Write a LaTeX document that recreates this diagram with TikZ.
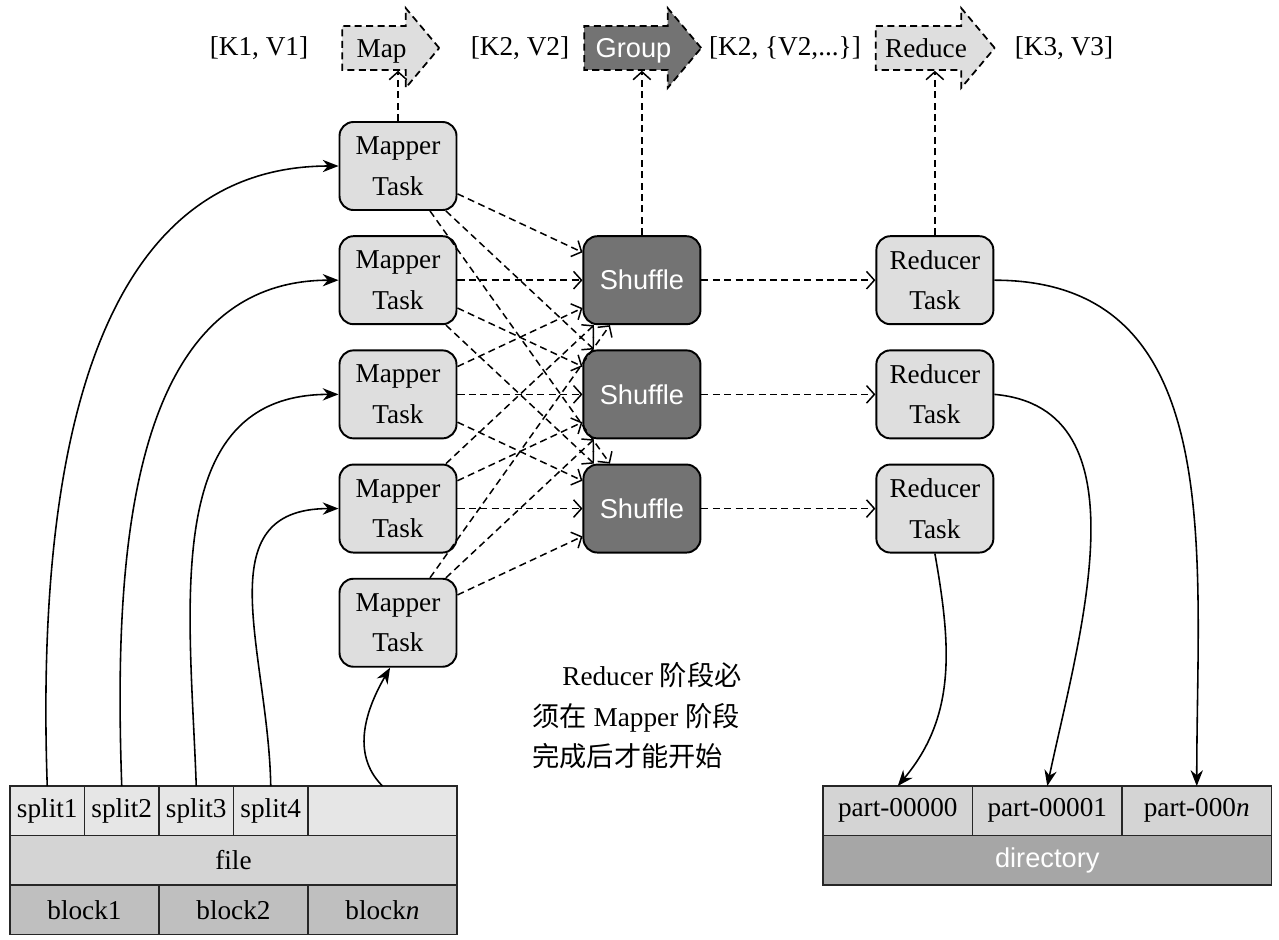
\documentclass[tikz,border=0pt]{standalone}
\usepackage{fontspec}
\setmainfont{Liberation Serif}
\newfontfamily\sansfont{Liberation Sans}
\newfontfamily\cjkfont{Noto Sans CJK SC}
\usetikzlibrary{shapes.arrows, arrows.meta, positioning}
\definecolor{taskGray}{HTML}{DEDEDE}
\definecolor{darkGray}{HTML}{737373}
\definecolor{splitGray}{HTML}{E6E6E6}
\definecolor{fileGray}{HTML}{D4D4D4}
\definecolor{blockGray}{HTML}{BFBFBF}
\definecolor{dirGray}{HTML}{A6A6A6}
\tikzstyle{taskNode} = [rectangle, minimum width=2.34cm, minimum height=1.76cm, align=center, rounded corners=0.28cm, draw=black, line width=1.1pt, fill=taskGray, inner sep=0pt]
\tikzstyle{taskNodeD} = [taskNode, fill=darkGray, text=white, font=\sansfont\fontsize{15.5}{23}\selectfont]
\tikzstyle{flowNode} = [single arrow, single arrow head extend=0.25cm, single arrow tip angle=100, minimum width=1.6cm, inner sep=1pt, text height=0.44cm, text depth=0.06cm, draw=black, line width=1pt, dash pattern=on 4pt off 2.5pt, fill=taskGray]
\tikzstyle{cellNode} = [rectangle, draw=black!85, line width=1pt, minimum height=0.99cm, inner sep=0pt, outer sep=0pt, anchor=north west]
\tikzstyle{arrow} = [line width=0.9pt, -{Stealth[length=9pt,width=7pt]}, draw=black]
\tikzstyle{arrowD} = [line width=0.85pt, -{Straight Barb[length=4.5pt,width=10pt]}, dash pattern=on 4pt off 2.5pt, draw=black]

\begin{document}
\begin{tikzpicture}[font=\fontsize{15.5}{23}\selectfont]
        \useasboundingbox (0,0) rectangle (25.58,-18.78);
        % tasks
        \node (mapper1) [taskNode] at (7.96,-3.32) {Mapper\\Task};
        \node (mapper2) [taskNode, below=0.485cm of mapper1] {Mapper\\Task};
        \node (mapper3) [taskNode, below=0.485cm of mapper2] {Mapper\\Task};
        \node (mapper4) [taskNode, below=0.485cm of mapper3] {Mapper\\Task};
        \node (mapper5) [taskNode, below=0.485cm of mapper4] {Mapper\\Task};
        \node (shuffle1) [taskNodeD, right=2.5cm of mapper2] {Shuffle};
        \node (shuffle2) [taskNodeD, below=0.485cm of shuffle1] {Shuffle};
        \node (shuffle3) [taskNodeD, below=0.485cm of shuffle2] {Shuffle};
        \node (reducer1) [taskNode, right=3.48cm of shuffle1] {Reducer\\Task};
        \node (reducer2) [taskNode, below=0.485cm of reducer1] {Reducer\\Task};
        \node (reducer3) [taskNode, below=0.485cm of reducer2] {Reducer\\Task};

        % phases
        \node (mapArrow) [flowNode, minimum height=1.94cm] at (7.63,-0.96) {Map};
        \node (groupArrow) [flowNode, minimum height=2.34cm, fill=darkGray, text=white, font=\sansfont\fontsize{15.5}{23}\selectfont] at (12.67,-0.96) {Group};
        \node (reduceArrow) [flowNode, minimum height=2.38cm] at (18.52,-0.96) {Reduce};
        \node (kv1) at (5.18,-0.96) {[K1, V1]};
        \node (kv2) at (10.4,-0.96) {[K2, V2]};
        \node (kv3) at (15.7,-0.96) {[K2, \{V2,...\}]};
        \node (kv4) at (21.28,-0.96) {[K3, V3]};

        % input file
        \node (split1) [cellNode, minimum width=1.49cm, fill=splitGray] at (0.2,-15.72) {split1};
        \node (split2) [cellNode, minimum width=1.49cm, fill=splitGray] at (split1.north east) {split2};
        \node (split3) [cellNode, minimum width=1.49cm, fill=splitGray] at (split2.north east) {split3};
        \node (split4) [cellNode, minimum width=1.49cm, fill=splitGray] at (split3.north east) {split4};
        \node (splitE) [cellNode, minimum width=2.98cm, fill=splitGray] at (split4.north east) {};
        \node (file) [cellNode, minimum width=8.94cm, fill=fileGray] at (split1.south west) {file};
        \node (block1) [cellNode, minimum width=2.98cm, fill=blockGray] at (file.south west) {block1};
        \node (block2) [cellNode, minimum width=2.98cm, fill=blockGray] at (block1.north east) {block2};
        \node (blockN) [cellNode, minimum width=2.98cm, fill=blockGray] at (block2.north east) {block\textit{n}};

        % output directory
        \node (part0) [cellNode, minimum width=2.99cm, fill=fileGray] at (16.46,-15.72) {part-00000};
        \node (part1) [cellNode, minimum width=2.99cm, fill=fileGray] at (part0.north east) {part-00001};
        \node (partN) [cellNode, minimum width=2.99cm, fill=fileGray] at (part1.north east) {part-000\textit{n}};
        \node (dir) [cellNode, minimum width=8.97cm, fill=dirGray, text=white, font=\sansfont\fontsize{15.5}{23}\selectfont] at (part0.south west) {directory};

        \node (note) [align=left] at (12.74,-14.32) {\hspace*{1.1em}Reducer {\cjkfont 阶段必}\\{\cjkfont 须在} Mapper {\cjkfont 阶段}\\{\cjkfont 完成后才能开始}};

        \foreach \i in {1,...,5}
            \foreach \j in {1,2,3}
                \draw [arrowD] (mapper\i) -- (shuffle\j);
        \foreach \j in {1,2,3}
            \draw [arrowD] (shuffle\j) -- (reducer\j);
        \draw [arrowD] (mapper1.north) -- (mapper1.north |- mapArrow.270);
        \draw [arrowD] (shuffle1.north) -- (shuffle1.north |- groupArrow.270);
        \draw [arrowD] (reducer1.north) -- (reducer1.north |- reduceArrow.270);

        \draw [arrow] (split1.north) to[out=92, in=180] (mapper1.west);
        \draw [arrow] (split2.north) to[out=92, in=180] (mapper2.west);
        \draw [arrow] (split3.north) to[out=92, in=180, looseness=1.1] (mapper3.west);
        \draw [arrow] (split4.north) to[out=91, in=180, looseness=1.2] (mapper4.west);
        \draw [arrow] (splitE.north) to[out=135, in=-120] (mapper5.260);
        \draw [arrow] (reducer1.east) to[out=0, in=90, looseness=1.1] (partN.north);
        \draw [arrow] (reducer2.east) to[out=-5, in=78] (part1.north);
        \draw [arrow] (reducer3.south) to[out=-80, in=50] (part0.north);
    \end{tikzpicture}
\end{document}
